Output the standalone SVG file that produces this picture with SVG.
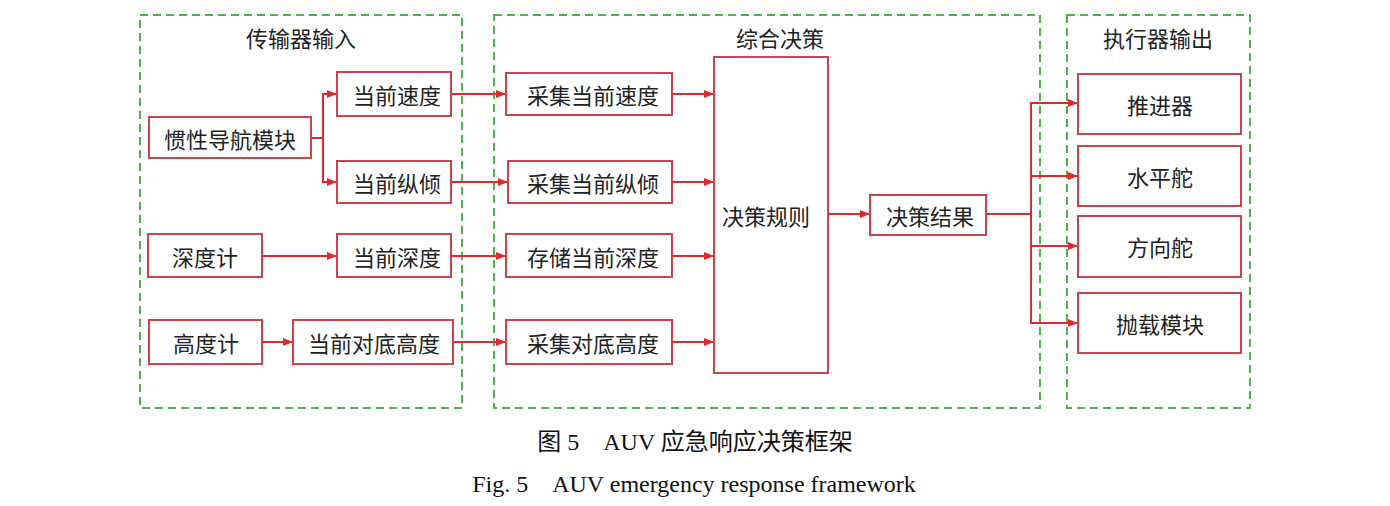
<svg xmlns="http://www.w3.org/2000/svg" width="1390" height="506" viewBox="0 0 1390 506">
<style>
.grp{fill:none;stroke:#4cb34c;stroke-width:2;stroke-dasharray:8 5}
.box{fill:#fff;stroke:#c8434a;stroke-width:2}
.t{font-family:"Noto Sans CJK SC","Noto Sans",sans-serif;font-size:22px;fill:#222;text-anchor:middle;dominant-baseline:central}
.cap{font-family:"Liberation Serif","Noto Sans CJK SC",serif;font-size:24px;fill:#111;text-anchor:middle}
.c{fill:none;stroke:#e0282e;stroke-width:2}
</style>
<defs>
<marker id="ah" markerUnits="userSpaceOnUse" markerWidth="10" markerHeight="8" refX="10" refY="4" orient="auto">
<path d="M0,0 L10,4 L0,8 z" fill="#e0282e"/>
</marker>
</defs>
<rect width="1390" height="506" fill="#fff"/>
<g id="groups">
<rect class="grp" x="140" y="15" width="322" height="393"/>
<rect class="grp" x="494" y="15" width="546" height="393"/>
<rect class="grp" x="1067" y="15" width="183" height="393"/>
<text class="t" x="301" y="37">传输器输入</text>
<text class="t" x="780" y="37">综合决策</text>
<text class="t" x="1158" y="37">执行器输出</text>
</g>
<g id="connectors">
<path class="c" d="M311,138 H323"/>
<path class="c" d="M323,138 V94 H337" marker-end="url(#ah)"/>
<path class="c" d="M323,138 V182 H337" marker-end="url(#ah)"/>
<path class="c" d="M451,94 H506" marker-end="url(#ah)"/>
<path class="c" d="M451,182 H508" marker-end="url(#ah)"/>
<path class="c" d="M262,256 H337" marker-end="url(#ah)"/>
<path class="c" d="M451,256 H506" marker-end="url(#ah)"/>
<path class="c" d="M262,342 H293" marker-end="url(#ah)"/>
<path class="c" d="M453,342 H506" marker-end="url(#ah)"/>
<path class="c" d="M672,94 H714" marker-end="url(#ah)"/>
<path class="c" d="M672,182 H714" marker-end="url(#ah)"/>
<path class="c" d="M672,256 H714" marker-end="url(#ah)"/>
<path class="c" d="M672,342 H714" marker-end="url(#ah)"/>
<path class="c" d="M828,214 H870" marker-end="url(#ah)"/>
<path class="c" d="M986,214 H1031"/>
<path class="c" d="M1031,214 V103 H1078" marker-end="url(#ah)"/>
<path class="c" d="M1031,176 H1078" marker-end="url(#ah)"/>
<path class="c" d="M1031,214 V246 H1078" marker-end="url(#ah)"/>
<path class="c" d="M1031,246 V323 H1078" marker-end="url(#ah)"/>
</g>
<g id="n-ins"><rect class="box" x="149" y="117" width="162" height="41"/><text class="t" x="230" y="137.5">惯性导航模块</text></g>
<g id="n-speed"><rect class="box" x="337" y="72" width="114" height="44"/><text class="t" x="397" y="94">当前速度</text></g>
<g id="n-pitch"><rect class="box" x="337" y="161" width="114" height="42"/><text class="t" x="397" y="182">当前纵倾</text></g>
<g id="n-depthgauge"><rect class="box" x="148" y="234" width="114" height="43"/><text class="t" x="205" y="255.5">深度计</text></g>
<g id="n-depth"><rect class="box" x="337" y="234" width="114" height="43"/><text class="t" x="397" y="255.5">当前深度</text></g>
<g id="n-altgauge"><rect class="box" x="149" y="320" width="113" height="44"/><text class="t" x="206" y="342">高度计</text></g>
<g id="n-alt"><rect class="box" x="293" y="320" width="160" height="44"/><text class="t" x="374" y="342">当前对底高度</text></g>
<g id="n-cspeed"><rect class="box" x="506" y="73" width="166" height="42"/><text class="t" x="593" y="94">采集当前速度</text></g>
<g id="n-cpitch"><rect class="box" x="508" y="161" width="164" height="42"/><text class="t" x="593" y="182">采集当前纵倾</text></g>
<g id="n-sdepth"><rect class="box" x="506" y="234" width="166" height="43"/><text class="t" x="593" y="255.5">存储当前深度</text></g>
<g id="n-calt"><rect class="box" x="506" y="320" width="166" height="44"/><text class="t" x="593" y="342">采集对底高度</text></g>
<g id="n-rule"><rect class="box" x="714" y="57" width="114" height="316"/><text class="t" x="766" y="215">决策规则</text></g>
<g id="n-result"><rect class="box" x="870" y="195" width="116" height="40"/><text class="t" x="930" y="215">决策结果</text></g>
<g id="n-thruster"><rect class="box" x="1078" y="74" width="163" height="60"/><text class="t" x="1160" y="104">推进器</text></g>
<g id="n-hrudder"><rect class="box" x="1078" y="146" width="163" height="60"/><text class="t" x="1160" y="176">水平舵</text></g>
<g id="n-vrudder"><rect class="box" x="1078" y="216" width="163" height="61"/><text class="t" x="1160" y="246">方向舵</text></g>
<g id="n-drop"><rect class="box" x="1078" y="293" width="163" height="60"/><text class="t" x="1160" y="323">抛载模块</text></g>
<g id="caption">
<text class="cap" x="695" y="450" font-family="'Noto Sans CJK SC',sans-serif">图 5　AUV 应急响应决策框架</text>
<text class="cap" x="694" y="492">Fig. 5　AUV emergency response framework</text>
</g>
</svg>
